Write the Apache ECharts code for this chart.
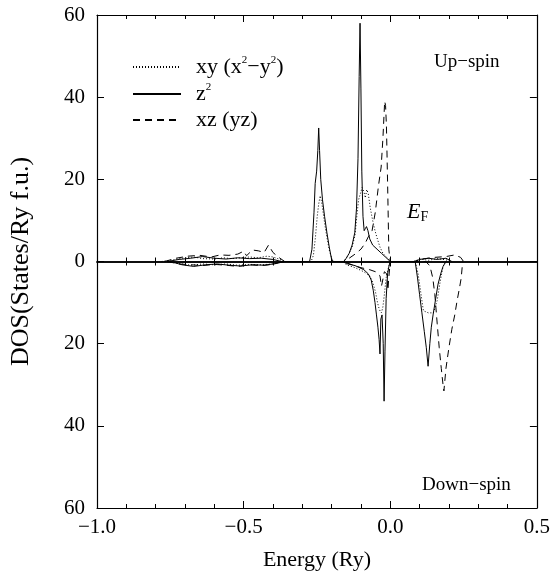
<!DOCTYPE html>
<html><head><meta charset="utf-8">
<script src="https://cdn.jsdelivr.net/npm/echarts@6/dist/echarts.min.js"></script>
<style>html,body{margin:0;padding:0;background:#fff}#c{width:553px;height:576px}</style>
</head><body><div id="c"></div>
<script>
// Energy (Ry) and DOS (States/Ry f.u.) pairs; down-spin stored as negative values
const xyUp = [[-0.78,0],[-0.74,0.4],[-0.70,0.9],[-0.67,1.1],[-0.64,0.7],[-0.60,0.6],[-0.57,0.9],[-0.54,0.7],[-0.51,0.9],[-0.48,1.1],[-0.45,0.9],[-0.42,1.3],[-0.40,1.1],[-0.38,0.6],[-0.36,0],[-0.27,0],[-0.262,1.5],[-0.255,6],[-0.249,11],[-0.244,14],[-0.239,16],[-0.234,14.5],[-0.228,11.5],[-0.222,8.5],[-0.215,5.5],[-0.207,2.5],[-0.198,0.5],[-0.19,0],[-0.16,0],[-0.15,0.8],[-0.14,2],[-0.13,3.5],[-0.12,6.5],[-0.114,11],[-0.108,15],[-0.102,16.5],[-0.096,18],[-0.09,17],[-0.085,15.5],[-0.08,17.5],[-0.075,16.5],[-0.068,13],[-0.06,10],[-0.052,7.5],[-0.044,5.5],[-0.035,3.5],[-0.025,2],[-0.012,1],[0,0],[0.08,0],[0.1,0.6],[0.13,0.3],[0.16,0.7],[0.19,0.4],[0.21,0]];
const zUp = [[-0.76,0],[-0.72,0.5],[-0.68,0.8],[-0.64,1.2],[-0.60,0.8],[-0.56,0.6],[-0.52,0.9],[-0.48,0.7],[-0.44,0.8],[-0.40,0.5],[-0.37,0],[-0.275,0],[-0.267,3],[-0.26,12],[-0.256,19],[-0.251,22],[-0.247,27],[-0.244,32.5],[-0.241,27],[-0.237,20],[-0.231,15],[-0.224,11],[-0.216,7],[-0.208,3.5],[-0.2,0.5],[-0.195,0],[-0.158,0],[-0.15,0.8],[-0.14,2],[-0.13,4],[-0.121,7],[-0.115,13],[-0.11,25],[-0.106,45],[-0.103,58],[-0.1,42],[-0.097,22],[-0.093,11],[-0.089,7.5],[-0.085,8],[-0.081,8.5],[-0.076,7.5],[-0.07,5.5],[-0.06,4],[-0.045,3],[-0.03,2],[-0.015,1],[0,0],[0.085,0],[0.1,0.5],[0.13,0.8],[0.16,0.5],[0.19,0.8],[0.21,0]];
const xzUp = [[-0.77,0],[-0.73,0.8],[-0.69,1.3],[-0.65,1.5],[-0.61,1.1],[-0.58,1.6],[-0.55,1.5],[-0.52,1.8],[-0.50,2.5],[-0.49,1.4],[-0.47,2.8],[-0.45,2.6],[-0.43,2.2],[-0.415,4],[-0.40,2.2],[-0.38,1],[-0.36,0],[-0.16,0],[-0.14,0.8],[-0.12,1.8],[-0.1,3],[-0.085,4.5],[-0.075,6],[-0.062,7.5],[-0.051,12],[-0.04,18.5],[-0.031,23],[-0.025,30],[-0.021,36],[-0.019,39],[-0.016,38],[-0.013,33],[-0.009,19],[-0.005,3],[0,0],[0.08,0],[0.11,0.6],[0.15,1],[0.19,1.2],[0.22,1.6],[0.24,1],[0.25,0]];
const xyDown = [[-0.76,0],[-0.72,-0.5],[-0.68,-0.9],[-0.64,-0.6],[-0.60,-0.8],[-0.56,-0.6],[-0.52,-0.9],[-0.48,-0.7],[-0.44,-0.8],[-0.40,-0.6],[-0.37,0],[-0.16,0],[-0.15,-0.8],[-0.12,-1.5],[-0.09,-2.5],[-0.07,-3.5],[-0.06,-5],[-0.05,-7.5],[-0.045,-9.5],[-0.04,-11],[-0.035,-12],[-0.03,-12.5],[-0.025,-11],[-0.02,-8],[-0.014,-4],[-0.008,-2],[0,0],[0.085,0],[0.095,-3],[0.105,-8],[0.113,-12],[0.13,-12.5],[0.147,-12.5],[0.16,-9.5],[0.17,-5],[0.18,-1.2],[0.19,0]];
const zDown = [[-0.75,0],[-0.71,-0.8],[-0.67,-1.2],[-0.63,-0.8],[-0.59,-0.6],[-0.55,-0.9],[-0.51,-1.1],[-0.47,-0.8],[-0.43,-0.9],[-0.39,-0.5],[-0.36,0],[-0.16,0],[-0.15,-0.5],[-0.12,-1],[-0.09,-2],[-0.075,-3],[-0.065,-4.5],[-0.058,-7],[-0.052,-10],[-0.047,-13],[-0.042,-16],[-0.038,-19],[-0.035,-22.5],[-0.032,-14],[-0.028,-13],[-0.024,-20],[-0.021,-34],[-0.018,-22],[-0.014,-9],[-0.009,-3],[-0.004,-1],[0,0],[0.085,0],[0.093,-4],[0.1,-8],[0.108,-12.5],[0.116,-17],[0.123,-21],[0.129,-25.5],[0.135,-20],[0.14,-16],[0.146,-13],[0.155,-9],[0.163,-5.5],[0.172,-3],[0.18,-1.2],[0.19,0]];
const xzDown = [[-0.76,0],[-0.72,-0.6],[-0.68,-0.8],[-0.64,-1],[-0.60,-0.7],[-0.56,-0.9],[-0.52,-1.2],[-0.48,-0.8],[-0.44,-1],[-0.40,-0.7],[-0.37,0],[-0.16,0],[-0.13,-0.8],[-0.1,-1.5],[-0.07,-2],[-0.05,-2.5],[-0.035,-3.5],[-0.03,-6],[-0.027,-5],[-0.02,-2.5],[-0.012,-3],[-0.008,-7],[-0.005,-4],[0,0],[0.12,0],[0.135,-1],[0.145,-4],[0.152,-8],[0.16,-15],[0.167,-21],[0.174,-26],[0.18,-30],[0.183,-31.5],[0.19,-26],[0.2,-21],[0.21,-16.5],[0.22,-13],[0.228,-9.5],[0.236,-6.5],[0.242,-4],[0.247,0]];

const seriesNames = ['xy (x²−y²)', 'z²', 'xz (yz)'];
const legendRich = {'xy (x²−y²)': '{b|xy (x}{s|2}{b|−y}{s|2}{b|)}', 'z²': '{b|z}{s|2}', 'xz (yz)': '{b|xz (yz)}'};
const xTicks = {min: -1.0, max: 0.5, step: 0.5};
const yTicks = {min: -60, max: 60, step: 20};

const serif = 'Liberation Serif';
const black = '#000';
const dashTypes = [[1, 2], 'solid', [7, 5]];

const chart = echarts.init(document.getElementById('c'), null, {renderer: 'canvas'});
const xFmt = v => (v < 0 ? '−' : '') + Math.abs(v).toFixed(1);
const baseX = {
  type: 'value', min: xTicks.min, max: xTicks.max, interval: xTicks.step,
  splitLine: {show: false},
  axisLine: {onZero: false, lineStyle: {color: black, width: 1.2}},
  axisTick: {inside: true, length: 7, lineStyle: {color: black, width: 1}},
  minorTick: {show: true, splitNumber: 5, length: 4, lineStyle: {color: black, width: 1}},
  axisLabel: {show: false}
};
const baseY = {
  type: 'value', min: yTicks.min, max: yTicks.max, interval: yTicks.step,
  splitLine: {show: false},
  axisLine: {onZero: false, lineStyle: {color: black, width: 1.2}},
  axisTick: {inside: true, length: 7, lineStyle: {color: black, width: 1}},
  axisLabel: {show: false}
};
const mk = (name, data, i) => ({
  name, type: 'line', data, symbol: 'none', showSymbol: false, animation: false,
  xAxisIndex: 0, yAxisIndex: 0, z: 3, color: black,
  itemStyle: {color: black},
  lineStyle: {color: black, width: 1, type: dashTypes[i]}
});
chart.setOption({
  animation: false,
  color: [black],
  backgroundColor: '#fff',
  grid: {left: 96, right: 16, top: 15, bottom: 65, containLabel: false},
  xAxis: [
    Object.assign({}, baseX, {position: 'bottom',
      axisLabel: {show: true, formatter: xFmt, fontFamily: serif, fontSize: 21, color: black, margin: 9},
      name: 'Energy (Ry)', nameLocation: 'middle', nameGap: 41,
      nameTextStyle: {fontFamily: serif, fontSize: 22, color: black}}),
    Object.assign({}, baseX, {position: 'top'}),
    Object.assign({}, baseX, {position: 'bottom', axisLine: {onZero: true, onZeroAxisIndex: 0, lineStyle: {color: black, width: 1.5}}, axisTick: {inside: true, length: 5, lineStyle: {color: black}}, minorTick: {show: true, splitNumber: 5, length: 4, lineStyle: {color: black}}}),
    Object.assign({}, baseX, {position: 'bottom', axisLine: {onZero: true, onZeroAxisIndex: 0, lineStyle: {color: black, width: 1.5}}, axisTick: {inside: false, length: 5, lineStyle: {color: black}}, minorTick: {show: true, splitNumber: 5, length: 4, lineStyle: {color: black}}})
  ],
  yAxis: [
    Object.assign({}, baseY, {position: 'left',
      axisLabel: {show: true, formatter: v => String(Math.abs(v)), fontFamily: serif, fontSize: 21, color: black, margin: 12},
      name: 'DOS(States/Ry f.u.)', nameLocation: 'middle', nameGap: 63, nameRotate: 90,
      nameTextStyle: {fontFamily: serif, fontSize: 26, color: black}}),
    Object.assign({}, baseY, {position: 'right'})
  ],
  legend: {
    data: seriesNames, orient: 'vertical', left: 127, top: 50, itemWidth: 48, itemHeight: 14, itemGap: 4,
    itemStyle: {opacity: 0},
    formatter: n => legendRich[n],
    textStyle: {color: black, padding: [0, 0, 0, 10],
      rich: {b: {fontFamily: serif, fontSize: 22, color: black, lineHeight: 24},
             s: {fontFamily: serif, fontSize: 11, color: black, verticalAlign: 'top', lineHeight: 12}}},
    selectedMode: false
  },
  graphic: [
    {type: 'text', left: 434, top: 53, style: {text: 'Up−spin', font: '19px "Liberation Serif"', fill: black}},
    {type: 'text', left: 422, top: 476, style: {text: 'Down−spin', font: '19px "Liberation Serif"', fill: black}},
    {type: 'text', left: 407, top: 201, style: {text: '{e|E}{f|F}', rich: {e: {font: 'italic 22px "Liberation Serif"', fill: black}, f: {font: '14px "Liberation Serif"', fill: black, padding: [10, 0, 0, 0]}}}}
  ],
  series: [
    mk(seriesNames[0], xyUp, 0), mk(seriesNames[0], xyDown, 0),
    mk(seriesNames[1], zUp, 1), mk(seriesNames[1], zDown, 1),
    mk(seriesNames[2], xzUp, 2), mk(seriesNames[2], xzDown, 2)
  ]
});
</script></body></html>
